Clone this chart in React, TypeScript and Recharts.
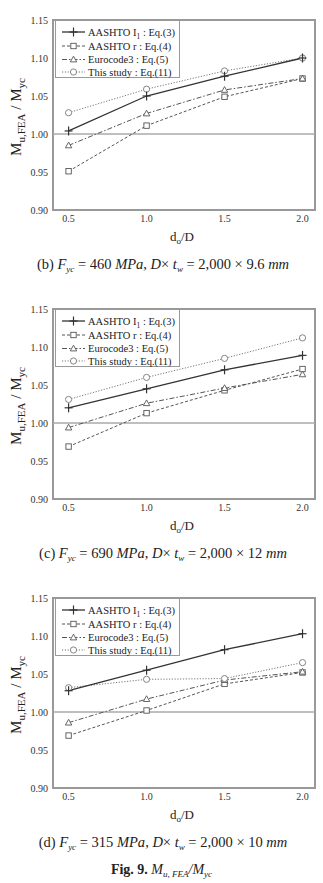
import React from 'react';
import { LineChart, Line, XAxis, YAxis, ReferenceLine, ReferenceArea, Legend, Label } from 'recharts';

const doRatio = [0.5, 1.0, 1.5, 2.0];
const xTicks = [0.5, 1.0, 1.5, 2.0];
const yTicks = [0.9, 0.95, 1.0, 1.05, 1.1, 1.15];

const bAashtoI1 = [1.004, 1.050, 1.076, 1.100];
const bAashtoR = [0.951, 1.011, 1.049, 1.073];
const bEurocode = [0.985, 1.027, 1.058, 1.073];
const bStudy = [1.028, 1.059, 1.083, 1.100];

const cAashtoI1 = [1.020, 1.045, 1.070, 1.089];
const cAashtoR = [0.969, 1.013, 1.043, 1.071];
const cEurocode = [0.994, 1.026, 1.046, 1.064];
const cStudy = [1.031, 1.060, 1.085, 1.112];

const dAashtoI1 = [1.028, 1.055, 1.082, 1.103];
const dAashtoR = [0.969, 1.002, 1.037, 1.052];
const dEurocode = [0.986, 1.017, 1.042, 1.053];
const dStudy = [1.032, 1.043, 1.044, 1.065];

const FONT = '"Liberation Serif", "Times New Roman", serif';

const STYLES = {
  i1: { stroke: '#333', dash: undefined as string | undefined, width: 1.3 },
  r: { stroke: '#555', dash: '3 2', width: 1 },
  ec: { stroke: '#555', dash: '5 2 1.5 2', width: 1 },
  ts: { stroke: '#777', dash: '1.2 1.6', width: 1 },
};

function Marker({ kind, cx, cy, stroke }: { kind: string; cx: number; cy: number; stroke: string }) {
  if (kind === 'i1') {
    return (
      <g>
        <line x1={cx - 4} x2={cx + 4} y1={cy} y2={cy} stroke={stroke} strokeWidth={1.2} />
        <line x1={cx} x2={cx} y1={cy - 4.5} y2={cy + 4.5} stroke={stroke} strokeWidth={1.2} />
      </g>
    );
  }
  if (kind === 'r') {
    return <rect x={cx - 2.7} y={cy - 2.7} width={5.4} height={5.4} fill="#fff" stroke={stroke} strokeWidth={0.9} />;
  }
  if (kind === 'ec') {
    return (
      <polygon
        points={`${cx},${cy - 3.3} ${cx + 3.2},${cy + 2.4} ${cx - 3.2},${cy + 2.4}`}
        fill="#fff"
        stroke={stroke}
        strokeWidth={0.9}
      />
    );
  }
  return <circle cx={cx} cy={cy} r={3.1} fill="#fff" stroke={stroke} strokeWidth={0.9} />;
}

const makeDot = (kind: string) => (props: any) => {
  const { cx, cy, key, index } = props;
  if (cx == null || cy == null) return <g key={key ?? index} />;
  return (
    <g key={key ?? `${kind}-${index}`}>
      <Marker kind={kind} cx={cx} cy={cy} stroke={(STYLES as any)[kind].stroke} />
    </g>
  );
};

const legendRows = [
  { kind: 'i1', label: <>AASHTO I<tspan fontSize={7.5} dy={3}>1</tspan><tspan dy={-3}> : Eq.(3)</tspan></> },
  { kind: 'r', label: <>AASHTO r : Eq.(4)</> },
  { kind: 'ec', label: <>Eurocode3 : Eq.(5)</> },
  { kind: 'ts', label: <>This study : Eq.(11)</> },
];

function LegendBox() {
  const rowsY = [12, 26, 39.5, 52];
  return (
    <svg width={125} height={58} style={{ display: 'block', overflow: 'visible' }}>
      <rect x={0.5} y={0.5} width={124} height={57} fill="#fff" stroke="#999" strokeWidth={1} />
      {legendRows.map((row, i) => {
        const s = (STYLES as any)[row.kind];
        const y = rowsY[i];
        return (
          <g key={row.kind}>
            <line x1={7} x2={30} y1={y} y2={y} stroke={s.stroke} strokeWidth={s.width} strokeDasharray={s.dash} />
            <Marker kind={row.kind} cx={18.5} cy={y} stroke={s.stroke} />
            <text x={33} y={y + 3.8} fontFamily={FONT} fontSize={10.5} fill="#222">
              {row.label}
            </text>
          </g>
        );
      })}
    </svg>
  );
}

function YTitle(props: any) {
  const vb = props.viewBox || { x: 0, y: 0, width: 0, height: 0 };
  const cx = 21;
  const cy = vb.y + vb.height / 2 + 2;
  return (
    <text
      x={cx}
      y={cy}
      transform={`rotate(-90, ${cx}, ${cy})`}
      textAnchor="middle"
      fontFamily={FONT}
      fontSize={15}
      fill="#222"
    >
      <tspan>M</tspan>
      <tspan fontSize={11} dy={4}>u,FEA</tspan>
      <tspan dy={-4}> / M</tspan>
      <tspan fontSize={11} dy={4}>yc</tspan>
    </text>
  );
}

function XTitle(props: any) {
  const vb = props.viewBox || { x: 0, y: 0, width: 0, height: 0 };
  return (
    <text x={182} y={vb.y + 31} textAnchor="middle" fontFamily={FONT} fontSize={13} fill="#222">
      <tspan>d</tspan>
      <tspan fontSize={9} dy={3}>o</tspan>
      <tspan dy={-3}>/D</tspan>
    </text>
  );
}

function Panel({
  top,
  i1,
  r,
  ec,
  ts,
  caption,
}: {
  top: number;
  i1: number[];
  r: number[];
  ec: number[];
  ts: number[];
  caption: React.ReactNode;
}) {
  const data = doRatio.map((x, k) => ({ x, i1: i1[k], r: r[k], ec: ec[k], ts: ts[k] }));
  return (
    <div style={{ position: 'absolute', left: 0, top, width: 323, height: 289 }}>
      <LineChart width={323} height={245} data={data} margin={{ top: 20, right: 8, bottom: 0, left: 0 }}>
        <XAxis
          dataKey="x"
          type="number"
          domain={[0.4, 2.08]}
          ticks={xTicks}
          tickFormatter={(v: number) => v.toFixed(1)}
          axisLine={false}
          tickLine={false}
          tickSize={0}
          tickMargin={5}
          height={35}
          tick={{ fontFamily: FONT, fontSize: 10, fill: '#333' }}
          allowDataOverflow
        >
          <Label content={<XTitle />} />
        </XAxis>
        <YAxis
          type="number"
          domain={[0.9, 1.15]}
          ticks={yTicks}
          tickFormatter={(v: number) => v.toFixed(2)}
          axisLine={false}
          tickLine={false}
          tickSize={0}
          tickMargin={5}
          width={53}
          tick={{ fontFamily: FONT, fontSize: 10, fill: '#333' }}
          allowDataOverflow
        >
          <Label content={<YTitle />} />
        </YAxis>
        <ReferenceArea x1={0.4} x2={2.08} y1={0.9} y2={1.15} fill="none" fillOpacity={0} stroke="#999" strokeWidth={2} />
        <ReferenceLine y={1.0} stroke="#aaa" strokeWidth={1.3} />
        <Legend
          layout="horizontal"
          verticalAlign="middle"
          align="center"
          wrapperStyle={{ left: 55, top: 20, width: 125, height: 58 }}
          content={() => <LegendBox />}
        />
        {(['r', 'ec', 'ts', 'i1'] as const).map((k) => (
          <Line
            key={k}
            dataKey={k}
            type="linear"
            stroke={STYLES[k].stroke}
            strokeWidth={STYLES[k].width}
            strokeDasharray={STYLES[k].dash}
            dot={makeDot(k)}
            activeDot={false}
            isAnimationActive={false}
            legendType="none"
          />
        ))}
      </LineChart>
      <div
        style={{
          position: 'absolute',
          left: 0,
          width: 326,
          top: 254,
          textAlign: 'center',
          fontFamily: FONT,
          fontSize: 14.5,
          color: '#222',
          lineHeight: '20px',
          whiteSpace: 'nowrap',
        }}
      >
        {caption}
      </div>
    </div>
  );
}

const subStyle: React.CSSProperties = { fontSize: 9, verticalAlign: '-3px', fontStyle: 'italic', lineHeight: 0 };

function Cap({ tag, fy, dims }: { tag: string; fy: string; dims: string }) {
  return (
    <>
      ({tag}) <i>F</i>
      <span style={subStyle}>yc</span> = {fy} <i>MPa</i>, <i>D</i>× <i>t</i>
      <span style={subStyle}>w</span> = 2,000 × {dims} <i>mm</i>
    </>
  );
}

export default function App() {
  return (
    <div style={{ position: 'absolute', left: 0, top: 0, width: 323, height: 883, background: '#fff', overflow: 'hidden' }}>
      <Panel top={0} i1={bAashtoI1} r={bAashtoR} ec={bEurocode} ts={bStudy} caption={<Cap tag="b" fy="460" dims="9.6" />} />
      <Panel top={289} i1={cAashtoI1} r={cAashtoR} ec={cEurocode} ts={cStudy} caption={<Cap tag="c" fy="690" dims="12" />} />
      <Panel top={578} i1={dAashtoI1} r={dAashtoR} ec={dEurocode} ts={dStudy} caption={<Cap tag="d" fy="315" dims="10" />} />
      <div
        style={{
          position: 'absolute',
          left: 0,
          width: 323,
          top: 860,
          textAlign: 'center',
          fontFamily: FONT,
          fontSize: 14,
          color: '#222',
          lineHeight: '20px',
          whiteSpace: 'nowrap',
        }}
      >
        <b>Fig. 9.</b> <i>M</i>
        <span style={subStyle}>u, FEA</span>
        <i>/M</i>
        <span style={subStyle}>yc</span>
      </div>
    </div>
  );
}
